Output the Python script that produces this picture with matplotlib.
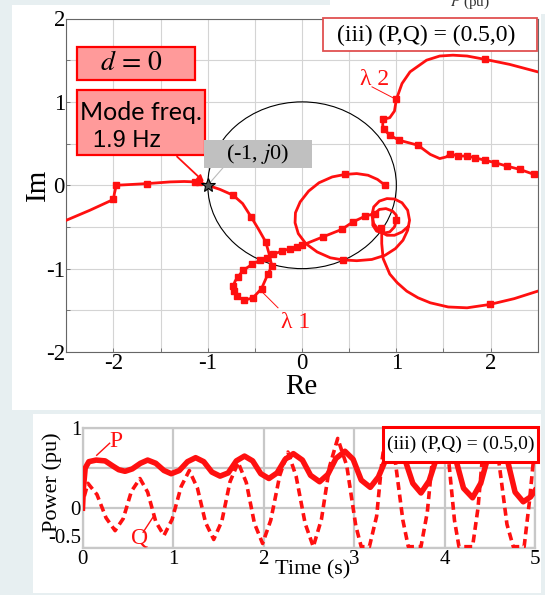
import matplotlib
matplotlib.use("Agg")
import matplotlib.pyplot as plt
from matplotlib.patches import Rectangle, Circle

# ---- Nyquist loci ----
lam1_re = [-2.50, -2.25, -2.00, -1.99, -1.97, -1.80, -1.64, -1.40, -1.25, -1.13, -1.09,
           -1.05, -1.00, -0.87, -0.73, -0.63, -0.54, -0.46, -0.385, -0.35, -0.32, -0.36,
           -0.43, -0.52, -0.615, -0.69, -0.72, -0.73, -0.71, -0.68, -0.625, -0.53, -0.445,
           -0.375, -0.31, -0.215, -0.127, -0.056, 0.00, 0.22, 0.42, 0.54, 0.67, 0.77,
           0.82, 0.89, 0.96, 1.00, 1.00, 0.98, 0.93, 0.86, 0.79, 0.75, 0.75, 0.77]
lam1_im = [-0.42, -0.30, -0.17, -0.10, 0.00, 0.01, 0.02, 0.04, 0.045, 0.04, 0.035,
           0.02, 0.00, -0.05, -0.12, -0.22, -0.38, -0.53, -0.68, -0.82, -0.97, -1.06,
           -1.24, -1.35, -1.38, -1.33, -1.27, -1.21, -1.15, -1.10, -1.02, -0.95, -0.90,
           -0.87, -0.83, -0.79, -0.76, -0.745, -0.72, -0.62, -0.53, -0.44, -0.37, -0.34,
           -0.29, -0.28, -0.31, -0.36, -0.42, -0.50, -0.56, -0.575, -0.55, -0.48, -0.40, -0.34]

tail_re = [0.845, 0.845, 0.86, 0.93, 1.01, 1.11, 1.23, 1.36, 1.55, 1.75, 1.99, 2.25, 2.50]
tail_im = [-0.50, -0.70, -0.88, -1.065, -1.17, -1.27, -1.35, -1.41, -1.46, -1.47, -1.43, -1.36, -1.27]

loop_re = [0.88, 0.80, 0.70, 0.58, 0.456, 0.32, 0.18, 0.07, -0.02, -0.07, -0.074, -0.04,
           0.04, 0.16, 0.30, 0.43, 0.58, 0.74, 0.88, 0.99, 1.07, 1.12, 1.14, 1.12, 1.06,
           0.98, 0.90, 0.82, 0.76, 0.74, 0.76, 0.82, 0.90, 0.98, 1.06, 1.12]
loop_im = [0.00, 0.07, 0.12, 0.14, 0.13, 0.10, 0.03, -0.07, -0.20, -0.33, -0.45, -0.58,
           -0.70, -0.80, -0.87, -0.895, -0.905, -0.89, -0.84, -0.76, -0.66, -0.54, -0.42,
           -0.30, -0.21, -0.165, -0.16, -0.19, -0.26, -0.36, -0.46, -0.55, -0.60, -0.60,
           -0.56, -0.50]

lam2u_re = [0.86, 0.93, 0.98, 1.00, 1.06, 1.145, 1.32, 1.46, 1.60, 1.75, 1.94, 2.20, 2.50]
lam2u_im = [0.79, 0.81, 0.89, 1.03, 1.22, 1.36, 1.50, 1.55, 1.56, 1.55, 1.51, 1.45, 1.36]

lam2l_re = [0.86, 0.855, 0.87, 0.93, 1.03, 1.13, 1.23, 1.30, 1.36, 1.46, 1.53, 1.57, 1.65,
            1.75, 1.83, 1.94, 2.05, 2.17, 2.31, 2.46, 2.50]
lam2l_im = [0.79, 0.72, 0.67, 0.60, 0.54, 0.51, 0.48, 0.42, 0.37, 0.32, 0.34, 0.38, 0.35,
            0.35, 0.33, 0.30, 0.27, 0.23, 0.19, 0.13, 0.12]

# frequency points marked with squares
mk_re = [-2.00, -1.97, -1.64, -1.13, -1.09, -0.73, -0.54, -0.385, -0.32, -0.36, -0.43,
         -0.52, -0.615, -0.69, -0.72, -0.73, -0.68, -0.625, -0.53, -0.445, -0.375, -0.31,
         -0.215, -0.127, -0.056, 0.00, 0.22, 0.42, 0.54, 0.67, 0.77, 1.00, 0.835, 1.99,
         0.88, 0.456, 0.43,
         0.86, 1.00, 1.94, 0.87, 0.93, 1.03, 1.23, 1.57, 1.65, 1.75, 1.83, 1.94, 2.05,
         2.17, 2.31, 2.46]
mk_im = [-0.17, 0.00, 0.02, 0.04, 0.035, -0.12, -0.38, -0.68, -0.97, -1.06, -1.24,
         -1.35, -1.38, -1.33, -1.27, -1.21, -1.10, -1.02, -0.95, -0.90, -0.87, -0.83,
         -0.79, -0.76, -0.745, -0.72, -0.62, -0.53, -0.44, -0.37, -0.34, -0.42, -0.51, -1.43,
         0.00, 0.13, -0.895,
         0.79, 1.03, 1.51, 0.67, 0.60, 0.54, 0.48, 0.38, 0.35, 0.35, 0.33, 0.30, 0.27,
         0.23, 0.19, 0.13]

# ---- time response ----
p_t = [0.00, 0.01, 0.03, 0.07, 0.15, 0.25, 0.33, 0.40, 0.47, 0.55, 0.64, 0.72, 0.81, 0.90,
       0.98, 1.07, 1.16, 1.25, 1.34, 1.43, 1.52, 1.61, 1.70, 1.79, 1.88, 1.97, 2.06, 2.15,
       2.24, 2.33, 2.43, 2.52, 2.62, 2.71, 2.80, 2.90, 2.99, 3.08, 3.18, 3.27, 3.37, 3.46,
       3.55, 3.65, 3.74, 3.83, 3.93, 4.02, 4.11, 4.21, 4.31, 4.40, 4.50, 4.59, 4.68, 4.78,
       4.87, 4.95, 5.00]
p_val = [0.00, 0.25, 0.50, 0.58, 0.60, 0.59, 0.53, 0.48, 0.46, 0.49, 0.56, 0.60, 0.56, 0.47,
         0.43, 0.47, 0.58, 0.63, 0.58, 0.45, 0.40, 0.44, 0.59, 0.65, 0.59, 0.43, 0.37, 0.44,
         0.61, 0.68, 0.60, 0.41, 0.33, 0.42, 0.62, 0.71, 0.61, 0.35, 0.26, 0.39, 0.66, 0.77,
         0.65, 0.31, 0.19, 0.34, 0.69, 0.82, 0.67, 0.25, 0.13, 0.31, 0.72, 0.86, 0.67, 0.20,
         0.08, 0.14, 0.22]

q_t = [0.02, 0.06, 0.16, 0.26, 0.36, 0.45, 0.54, 0.635, 0.72, 0.81, 0.90, 0.99, 1.09, 1.18,
       1.27, 1.36, 1.45, 1.54, 1.63, 1.72, 1.81, 1.90, 1.99, 2.08, 2.18, 2.27, 2.36, 2.46,
       2.55, 2.64, 2.73, 2.82, 2.92, 3.02, 3.08, 3.17, 3.25, 3.31, 3.36, 3.40, 3.46, 3.54,
       3.60, 3.74, 3.81, 3.87, 3.91, 3.99, 4.05, 4.11, 4.16, 4.31, 4.37, 4.42, 4.46, 4.55,
       4.61, 4.69, 4.76, 4.88, 4.94, 5.00]
q_val = [0.15, 0.31, 0.17, -0.12, -0.28, -0.13, 0.21, 0.37, 0.20, -0.17, -0.34, -0.14, 0.27,
         0.47, 0.25, -0.18, -0.39, -0.16, 0.33, 0.57, 0.32, -0.19, -0.44, -0.15, 0.41, 0.70,
         0.40, -0.19, -0.48, -0.14, 0.52, 0.87, 0.53, -0.22, -0.48, -0.48, -0.10, 0.60, 0.99,
         0.99, 0.55, -0.15, -0.48, -0.48, -0.05, 0.65, 0.99, 0.99, 0.55, -0.15, -0.48, -0.48,
         0.00, 0.65, 0.99, 0.99, 0.50, -0.20, -0.48, -0.48, 0.10, 0.80]

W, H = 545, 595
RED = "#ff1010"
plt.rcParams["font.family"] = ["Liberation Serif", "DejaVu Serif"]
plt.rcParams["mathtext.fontset"] = "stix"


def fx(px):
    return px / W


def fy(py):
    return 1 - py / H


fig = plt.figure(figsize=(W / 100, H / 100), dpi=100, facecolor="#e7eff1")


def fig_box(x0, y0, x1, y1, fc, ec, lw, z):
    fig.patches.append(Rectangle((fx(x0), fy(y1)), fx(x1) - fx(x0), fy(y0) - fy(y1),
                                 transform=fig.transFigure, fc=fc, ec=ec, lw=lw, zorder=z))


# white slide panels
fig_box(12, 5, 541, 410, "white", "none", 0, -5)
fig_box(33, 414, 541, 593, "white", "none", 0, -5)
fig_box(330, 0, 545, 14, "white", "none", 0, -5)
fig.text(fx(470), fy(2), r"$P$ (pu)", fontsize=11, ha="center", va="center", color="#333333")

# ---------------- top: Nyquist plot ----------------
ax = fig.add_axes([fx(66.3), fy(352), fx(537.8) - fx(66.3), fy(18.5) - fy(352)])
ax.set_xlim(-2.5, 2.5)
ax.set_ylim(-2, 2)
ax.grid(True, color="#d4d4d4", lw=0.8)
ax.set_axisbelow(True)
for s in ax.spines.values():
    s.set_color("#666666")
    s.set_linewidth(0.8)
ticks_x = [-2.5, -2, -1.5, -1, -0.5, 0, 0.5, 1, 1.5, 2, 2.5]
ticks_y = [-2, -1.5, -1, -0.5, 0, 0.5, 1, 1.5, 2]
ax.set_xticks(ticks_x)
ax.set_xticklabels(["" if t % 1 else str(int(t)) for t in ticks_x])
ax.set_yticks(ticks_y)
ax.set_yticklabels(["" if t % 1 else str(int(t)) for t in ticks_y])
ax.tick_params(direction="in", length=3, width=0.6, color="#666666", labelsize=16.5, pad=1)

ax.add_patch(Circle((0, 0), 1, fill=False, ec="black", lw=0.8, zorder=2))
for xs, ys in [(lam1_re, lam1_im), (tail_re, tail_im), (loop_re, loop_im),
               (lam2u_re, lam2u_im), (lam2l_re, lam2l_im)]:
    ax.plot(xs, ys, color=RED, lw=2.0, solid_joinstyle="round", zorder=3)
ax.plot(mk_re, mk_im, ls="none", marker="s", ms=4.5, color=RED, zorder=4)
ax.plot([-1], [0], marker="*", ms=10, mfc="#555555", mec="black", mew=0.8, ls="none", zorder=5)

# annotations
ax.plot([-1.0, -0.838], [0.0, 0.21], color="#bbbbbb", lw=0.8, zorder=4)
ax.annotate("", xy=(-1.02, 0.02), xytext=(-1.347, 0.366),
            arrowprops=dict(arrowstyle="-|>", color=RED, lw=1.3, mutation_scale=9), zorder=5)
ax.plot([0.742, 0.997], [1.18, 1.03], color=RED, lw=0.7, zorder=4)
ax.text(0.774, 1.265, "λ 2", color=RED, fontsize=17, ha="center", va="center")
ax.plot([-0.414, -0.255], [-1.29, -1.47], color=RED, lw=0.7, zorder=4)
ax.text(-0.064, -1.65, "λ 1", color=RED, fontsize=17, ha="center", va="center")

fig_box(323, 18, 537, 51, "white", "#e05050", 1.3, 3)
fig.text(fx(426), fy(35), "(iii) (P,Q) = (0.5,0)", fontsize=17, ha="center", va="center", zorder=4)
fig_box(76.5, 47, 194.6, 80, "#ff9a9a", "#ff0000", 1.6, 3)
fig.text(fx(131), fy(64), r"$d\,=\,0$", fontsize=20, ha="center", va="center", zorder=4)
fig_box(76.5, 90, 205, 155, "#ff9a9a", "#ff0000", 1.6, 3)
fig.text(fx(80), fy(112), "Mode freq.", family=["Lato", "DejaVu Sans"], fontsize=18,
         ha="left", va="center", zorder=4)
fig.text(fx(93), fy(141), "1.9 Hz", family=["Liberation Sans", "DejaVu Sans"], fontsize=17,
         ha="left", va="center", zorder=4)
fig_box(204, 140, 311.7, 168, "#c0c0c0", "none", 0, 3)
fig.text(fx(257.5), fy(154), r"(-1, $j$0)", fontsize=16, ha="center", va="center", zorder=4)

fig.text(fx(301), fy(387), "Re", fontsize=21, ha="center", va="center")
fig.text(fx(38), fy(185), "Im", fontsize=21, ha="center", va="center", rotation=90)

# ---------------- bottom: time response ----------------
bx = fig.add_axes([fx(82.5), fy(548.3), fx(535) - fx(82.5), fy(428) - fy(548.3)])
bx.set_xlim(0, 5)
bx.set_ylim(-0.5, 1)
bx.grid(True, color="#c8c8c8", lw=1.6)
bx.set_axisbelow(True)
for s in bx.spines.values():
    s.set_color("#c8c8c8")
    s.set_linewidth(1.6)
bx.set_xticks([0, 1, 2, 3, 4, 5])
bx.set_yticks([-0.5, 0, 0.5, 1])
bx.set_yticklabels(["-0.5", "0", "", "1"])
bx.tick_params(length=0, labelsize=15, pad=1)
for lab in bx.get_yticklabels():
    if lab.get_text() == "-0.5":
        lab.set_va("bottom")
bx.plot(p_t, p_val, color=RED, lw=4.0, solid_joinstyle="round", zorder=3)
bx.plot(q_t, q_val, color=RED, lw=2.6, dashes=(2.2, 1.3), zorder=3)

bx.plot([0.157, 0.30], [0.66, 0.81], color=RED, lw=1.0, zorder=4)
bx.text(0.37, 0.83, "P", color=RED, fontsize=17, ha="center", va="center")
bx.plot([0.67, 0.78], [-0.30, -0.11], color=RED, lw=1.0, zorder=4)
bx.text(0.635, -0.37, "Q", color=RED, fontsize=17, ha="center", va="center")

fig_box(383, 427, 538, 462, "white", "#ff0000", 2.2, 3)
fig.text(fx(460.5), fy(444), "(iii) (P,Q) = (0.5,0)", fontsize=14, ha="center", va="center", zorder=4)

fig.text(fx(313), fy(570), "Time (s)", fontsize=16, ha="center", va="center")
fig.text(fx(52), fy(482), "Power (pu)", fontsize=16, ha="center", va="center", rotation=90)

fig.savefig("out.png", dpi=100, facecolor=fig.get_facecolor())
